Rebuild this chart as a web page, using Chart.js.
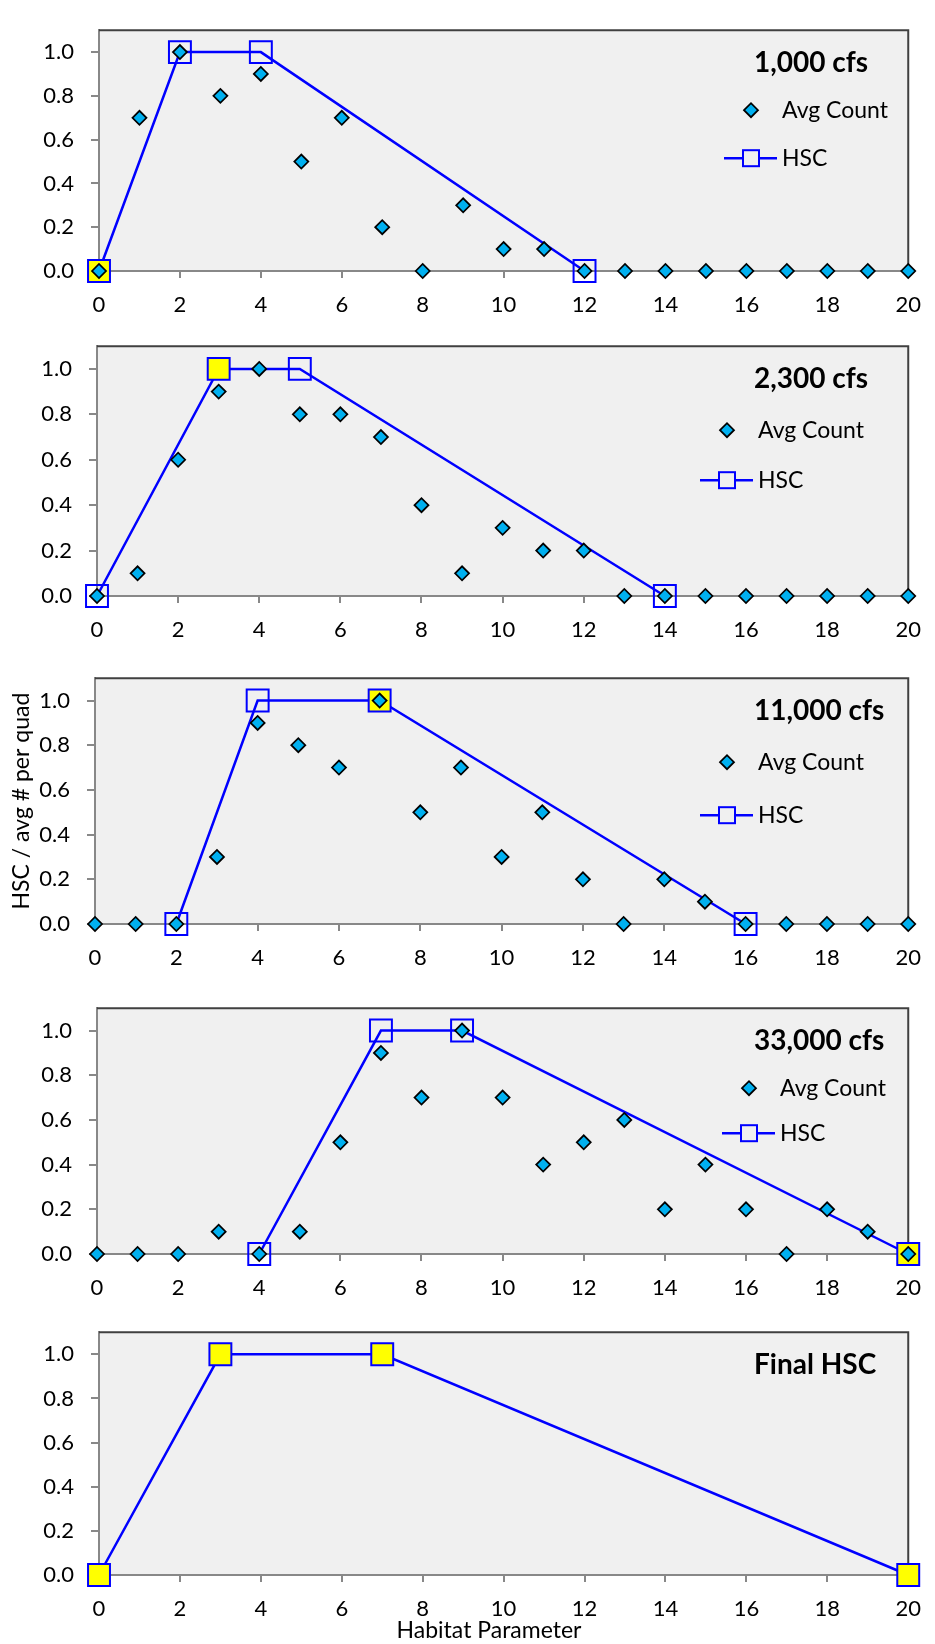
<!DOCTYPE html>
<html>
<head>
<meta charset="utf-8">
<script src="https://cdn.jsdelivr.net/npm/chart.js@4.4.1/dist/chart.umd.min.js"></script>
<style>
body { margin: 0; background: #fff; }
#wrap { position: relative; width: 935px; height: 1644px; overflow: hidden; }
.panel { position: absolute; left: 0; width: 935px; }
</style>
</head>
<body>
<div id="wrap">
  <div class="panel" style="top:0px;height:316px"><canvas id="c1" width="935" height="316"></canvas></div>
  <div class="panel" style="top:316px;height:332px"><canvas id="c2" width="935" height="332"></canvas></div>
  <div class="panel" style="top:648px;height:330px"><canvas id="c3" width="935" height="330"></canvas></div>
  <div class="panel" style="top:978px;height:324px"><canvas id="c4" width="935" height="324"></canvas></div>
  <div class="panel" style="top:1302px;height:342px"><canvas id="c5" width="935" height="342"></canvas></div>
</div>
<script>
// habitat parameter values 0..20
var xVals = [0,1,2,3,4,5,6,7,8,9,10,11,12,13,14,15,16,17,18,19,20];
var xTicks = [0,2,4,6,8,10,12,14,16,18,20];
var yTicks = [0,0.2,0.4,0.6,0.8,1.0];

// avg count per quad, one list per flow
var avg1000  = [0,0.7,1.0,0.8,0.9,0.5,0.7,0.2,0,0.3,0.1,0.1,0,0,0,0,0,0,0,0,0];
var avg2300  = [0,0.1,0.6,0.9,1.0,0.8,0.8,0.7,0.4,0.1,0.3,0.2,0.2,0,0,0,0,0,0,0,0];
var avg11000 = [0,0,0,0.3,0.9,0.8,0.7,1.0,0.5,0.7,0.3,0.5,0.2,0,0.2,0.1,0,0,0,0,0];
var avg33000 = [0,0,0,0.1,0,0.1,0.5,0.9,0.7,1.0,0.7,0.4,0.5,0.6,0.2,0.4,0.2,0,0.2,0.1,0];

// HSC break points
var hscX1000 = [0,2,4,12],   hscY1000 = [0,1,1,0];
var hscX2300 = [0,3,5,14],   hscY2300 = [0,1,1,0];
var hscX11000 = [2,4,7,16],  hscY11000 = [0,1,1,0];
var hscX33000 = [4,7,9,20],  hscY33000 = [0,1,1,0];
var hscXFinal = [0,3,7,20],  hscYFinal = [0,1,1,0];

// which HSC points went into the final curve (yellow)
var pick1000 = [0];
var pick2300 = [1];
var pick11000 = [2];
var pick33000 = [3];
var pickFinal = [0,1,2,3];

var titles = ['1,000 cfs', '2,300 cfs', '11,000 cfs', '33,000 cfs', 'Final HSC'];
var legendNames = ['Avg Count', 'HSC'];
var yTitle = 'HSC / avg # per quad';
var xTitle = 'Habitat Parameter';

var FONT = 'Lato';
var BLUE = '#0000FF';
var CYAN = '#00B0F0';
var YELLOW = '#FFFF00';

var panels = [
  {id:'c1', title:titles[0], avg:avg1000, hx:hscX1000, hy:hscY1000, pick:pick1000,
   top:0, h:316, area:[99,5,922,271], leg:[751,782,80,128]},
  {id:'c2', title:titles[1], avg:avg2300, hx:hscX2300, hy:hscY2300, pick:pick2300,
   top:316, h:332, area:[97,325,919,596], leg:[727,758,84,134]},
  {id:'c3', title:titles[2], avg:avg11000, hx:hscX11000, hy:hscY11000, pick:pick11000,
   top:648, h:330, area:[95,653,918,924], leg:[727,758,84,137], ytitle:true},
  {id:'c4', title:titles[3], avg:avg33000, hx:hscX33000, hy:hscY33000, pick:pick33000,
   top:978, h:324, area:[97,983,920,1254], leg:[749,780,80,125]},
  {id:'c5', title:titles[4], avg:null, hx:hscXFinal, hy:hscYFinal, pick:pickFinal,
   top:1302, h:342, area:[99,1308,922,1575], leg:null, xtitle:[489,329]}
];

function diamond(ctx, x, y, r) {
  ctx.beginPath();
  ctx.moveTo(x - r, y); ctx.lineTo(x, y - r); ctx.lineTo(x + r, y); ctx.lineTo(x, y + r);
  ctx.closePath();
  ctx.fillStyle = CYAN; ctx.fill();
  ctx.lineWidth = 1.75; ctx.strokeStyle = '#000'; ctx.stroke();
}

function makeDeco(p) {
  return {
    id: 'deco',
    beforeDraw: function(chart) {
      var a = chart.chartArea, ctx = chart.ctx;
      ctx.save();
      ctx.fillStyle = '#F0F0F0';
      ctx.fillRect(a.left, a.top, a.right - a.left, a.bottom - a.top);
      ctx.restore();
    },
    beforeDatasetsDraw: function(chart) {
      var a = chart.chartArea, ctx = chart.ctx;
      ctx.save();
      ctx.strokeStyle = '#404040'; ctx.lineWidth = 2;
      ctx.beginPath();
      ctx.moveTo(a.left, a.top); ctx.lineTo(a.right, a.top); ctx.lineTo(a.right, a.bottom);
      ctx.stroke();
      ctx.restore();
    },
    afterDatasetsDraw: function(chart) {
      var a = chart.chartArea, ctx = chart.ctx;
      ctx.save();
      ctx.textBaseline = 'middle';
      ctx.textAlign = 'left';
      ctx.fillStyle = '#000';
      ctx.font = 'bold 28px ' + FONT;
      ctx.fillText(p.title, 754, a.top + 33);
      if (p.leg) {
        var mx = p.leg[0], tx = p.leg[1];
        var y1 = a.top + p.leg[2], y2 = a.top + p.leg[3];
        diamond(ctx, mx, y1, 7);
        ctx.strokeStyle = BLUE; ctx.lineWidth = 2.5;
        ctx.beginPath(); ctx.moveTo(mx - 27, y2); ctx.lineTo(mx + 26, y2); ctx.stroke();
        ctx.fillStyle = '#F0F0F0'; ctx.fillRect(mx - 8, y2 - 8, 16, 16);
        ctx.lineWidth = 2; ctx.strokeRect(mx - 8, y2 - 8, 16, 16);
        ctx.fillStyle = '#000';
        ctx.font = '23px ' + FONT;
        ctx.fillText(legendNames[0], tx, y1);
        ctx.fillText(legendNames[1], tx, y2);
      }
      if (p.xtitle) {
        ctx.font = '23px ' + FONT;
        ctx.textAlign = 'center';
        ctx.fillText(xTitle, p.xtitle[0], p.xtitle[1]);
      }
      ctx.restore();
    }
  };
}

function makeChart(p) {
  var L = p.area[0], T = p.area[1], R = p.area[2], B = p.area[3];
  var datasets = [];
  if (p.avg) {
    datasets.push({
      label: legendNames[0],
      data: xVals.map(function(x, i) { return {x: x, y: p.avg[i]}; }),
      showLine: false,
      pointStyle: 'rectRot',
      pointRadius: 7,
      backgroundColor: CYAN,
      borderColor: '#000',
      borderWidth: 1.75,
      clip: false
    });
  }
  datasets.push({
    label: legendNames[1],
    data: p.hx.map(function(x, i) { return {x: x, y: p.hy[i]}; }),
    showLine: true,
    borderColor: BLUE,
    borderWidth: 2.5,
    pointStyle: 'rect',
    pointRadius: 15.5,
    pointBorderColor: BLUE,
    pointBorderWidth: 2,
    pointBackgroundColor: p.hx.map(function(x, i) { return p.pick.indexOf(i) >= 0 ? YELLOW : 'rgba(0,0,0,0)'; }),
    clip: false
  });

  new Chart(document.getElementById(p.id), {
    type: 'scatter',
    data: { datasets: datasets },
    options: {
      responsive: false,
      animation: false,
      events: [],
      layout: { padding: { left: 0, top: T - p.top, right: 935 - R, bottom: 0 } },
      plugins: { legend: { display: false }, tooltip: { enabled: false } },
      scales: {
        x: {
          type: 'linear', min: 0, max: 20,
          afterFit: function(s) { s.height = p.top + p.h - B; },
          afterBuildTicks: function(s) { s.ticks = xTicks.map(function(v) { return {value: v}; }); },
          ticks: { font: { family: FONT, size: 22 }, color: '#000', padding: 14, maxRotation: 0, autoSkip: false },
          grid: { drawOnChartArea: false, tickLength: 7, color: '#888', lineWidth: 2 },
          border: { color: '#888', width: 2 }
        },
        y: {
          type: 'linear', min: 0, max: 1.1,
          afterFit: function(s) { s.width = L; },
          afterBuildTicks: function(s) { s.ticks = yTicks.map(function(v) { return {value: v}; }); },
          ticks: { font: { family: FONT, size: 22 }, color: '#000', padding: 17,
                   callback: function(v) { return v.toFixed(1); } },
          grid: { drawOnChartArea: false, tickLength: 8, color: '#888', lineWidth: 2 },
          border: { color: '#888', width: 2 },
          title: { display: !!p.ytitle, text: yTitle, color: '#000',
                   font: { family: FONT, size: 23 }, padding: { top: 8, bottom: 0 } }
        }
      }
    },
    plugins: [makeDeco(p)]
  });
}

panels.forEach(makeChart);
</script>
</body>
</html>
